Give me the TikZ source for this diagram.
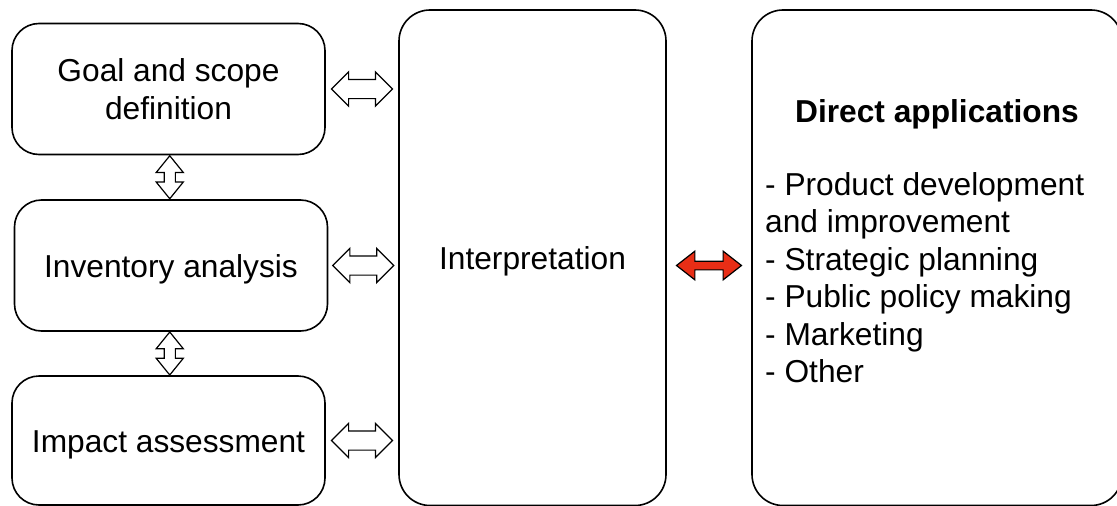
\documentclass[tikz,border=0pt]{standalone}
\usepackage{fontspec}
\setmainfont{Liberation Sans}
\usetikzlibrary{shapes.arrows,calc}

\definecolor{linkred}{RGB}{232,46,22}

\tikzset{
  stage/.style={draw, line width=1.6pt, rounded corners=27pt, minimum width=313pt,
    minimum height=131pt, align=center, inner sep=0pt,
    font=\fontsize{31.7}{37.4}\selectfont},
  oneline/.style={text height=23pt, text depth=0pt},
  column/.style={draw, line width=1.6pt, rounded corners=31pt, minimum height=495.5pt,
    inner sep=0pt, font=\fontsize{31.7}{37.4}\selectfont},
  link/.style={double arrow, draw, fill=white, line width=1.2pt, inner sep=9pt,
    minimum height=61pt, double arrow head extend=7.5pt},
  vlink/.style={link, shape border rotate=90, inner sep=5pt, minimum height=43pt,
    double arrow head extend=8pt, double arrow tip angle=78},
  redlink/.style={link, fill=linkred, inner sep=3.75pt, minimum height=65pt,
    double arrow head extend=10pt, double arrow tip angle=76}
}

\begin{document}
\begin{tikzpicture}[x=1pt,y=-1pt]
\useasboundingbox (0,0) rectangle (1117,506);
\clip (0,0) rectangle (1117,506);

\node[stage] (goal) at (168.5,89) {Goal and scope\\definition};
\node[stage, oneline] (inv) at (171,265.5) {Inventory analysis};
\node[stage, oneline, minimum height=129pt] (imp) at (168.5,440.5) {Impact assessment};
\node[column, oneline, minimum width=267pt] (interp) at (532.5,257.75) {Interpretation};
\node[column, minimum width=370pt] (direct) at (937,257.75) {};

\node[anchor=base, font=\fontsize{31.7}{37.4}\selectfont\bfseries] (title)
  at (937,122) {Direct applications};
\node[anchor=north west, align=left, inner sep=0pt,
  font=\fontsize{31.7}{37.4}\selectfont] (uses) at (765,172.3)
  {- Product development\\and improvement\\- Strategic planning\\- Public policy making\\- Marketing\\- Other};

% links between the stages and interpretation
\node[link] (l1) at ($(goal.east)!0.5!(interp.west |- goal.east)$) {};
\node[link] (l2) at ($(inv.east)!0.5!(interp.west |- inv.east)$) {};
\node[link] (l3) at ($(imp.east)!0.5!(interp.west |- imp.east)$) {};
\node[vlink] (v1) at ($(goal.south)!0.5!(inv.north)$) {};
\node[vlink] (v2) at ($(inv.south)!0.5!(imp.north)$) {};
\node[redlink] (r1) at ($(interp.east |- inv.east)!0.5!(direct.west |- inv.east)$) {};

\end{tikzpicture}
\end{document}
